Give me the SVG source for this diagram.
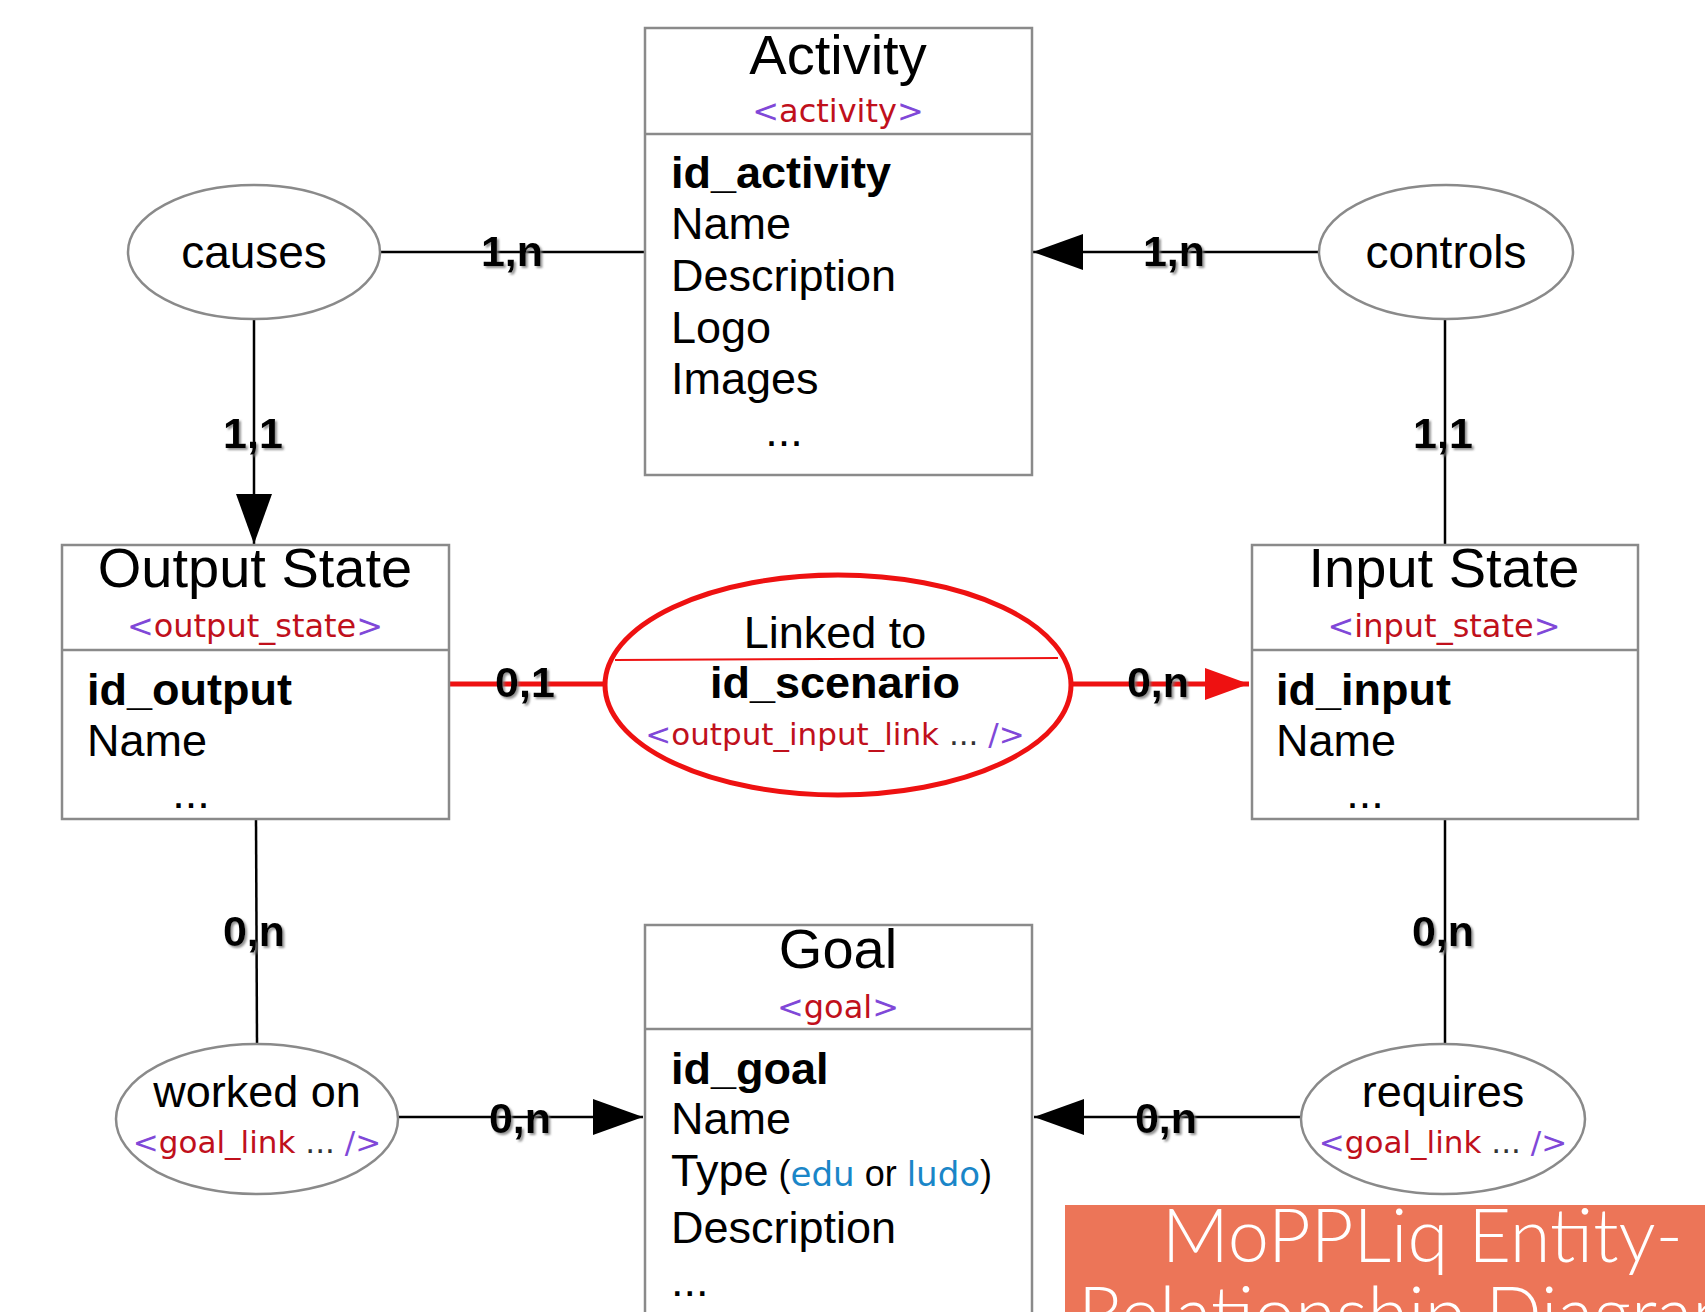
<svg xmlns="http://www.w3.org/2000/svg" width="1705" height="1312" viewBox="0 0 1705 1312">
<defs>
<style>
.box{fill:#fff;stroke:#8a8a8a;stroke-width:2.5}
.ell{fill:#fff;stroke:#8a8a8a;stroke-width:2.5}
.title{font-family:"Liberation Sans",Arial,sans-serif;font-size:56px;fill:#000;text-anchor:middle}
.tag{font-family:"DejaVu Sans",Verdana,sans-serif;font-size:32px;text-anchor:middle}
.pu{fill:#8048d8}
.rd{fill:#c0101c}
.bl{fill:#1a86c8}
.attr{font-family:"Liberation Sans",Arial,sans-serif;font-size:45px;fill:#000}
.key{font-weight:bold}
.rel{font-family:"Liberation Sans",Arial,sans-serif;font-size:46px;fill:#000;text-anchor:middle}
.card{font-family:"Liberation Sans",Arial,sans-serif;font-size:43px;font-weight:bold;fill:#000;text-anchor:middle;filter:url(#sh)}
.ln{stroke:#000;stroke-width:2.5;fill:none}
.rln{stroke:#ee1111;stroke-width:5;fill:none}
.banner{font-family:Lato,"Open Sans",sans-serif;font-weight:300;font-size:74px;fill:#fff}
</style>
<filter id="sh" x="-20%" y="-20%" width="140%" height="140%">
<feDropShadow dx="2" dy="2" stdDeviation="1.2" flood-color="#777" flood-opacity="0.8"/>
</filter>
<marker id="ab" markerUnits="userSpaceOnUse" markerWidth="50" markerHeight="36" refX="50" refY="18" orient="auto">
<path d="M0,0 L50,18 L0,36 Z" fill="#000"/>
</marker>
<marker id="ar" markerUnits="userSpaceOnUse" markerWidth="44" markerHeight="32" refX="44" refY="16" orient="auto">
<path d="M0,0 L44,16 L0,32 Z" fill="#ee1111"/>
</marker>
</defs>
<rect width="1705" height="1312" fill="#fff"/>

<g id="connectors">
<line class="ln" x1="381" y1="252" x2="645" y2="252"/>
<line class="ln" x1="1319" y1="252" x2="1033" y2="252" marker-end="url(#ab)"/>
<line class="ln" x1="254" y1="320" x2="254" y2="544" marker-end="url(#ab)"/>
<line class="ln" x1="1445" y1="320" x2="1445" y2="545"/>
<line class="rln" x1="450" y1="684" x2="606" y2="684"/>
<line class="rln" x1="1071" y1="684" x2="1249" y2="684" marker-end="url(#ar)"/>
<line class="ln" x1="256" y1="819" x2="257" y2="1044"/>
<line class="ln" x1="1445" y1="819" x2="1445" y2="1044"/>
<line class="ln" x1="398" y1="1117" x2="643" y2="1117" marker-end="url(#ab)"/>
<line class="ln" x1="1302" y1="1117" x2="1034" y2="1117" marker-end="url(#ab)"/>
<text class="card" x="512" y="266">1,n</text>
<text class="card" x="1174" y="266">1,n</text>
<text class="card" x="253" y="448">1,1</text>
<text class="card" x="1443" y="448">1,1</text>
<text class="card" x="525" y="697">0,1</text>
<text class="card" x="1158" y="697">0,n</text>
<text class="card" x="254" y="946">0,n</text>
<text class="card" x="1443" y="946">0,n</text>
<text class="card" x="520" y="1133">0,n</text>
<text class="card" x="1166" y="1133">0,n</text>
</g>

<g id="activity">
<rect class="box" x="645" y="28" width="387" height="447"/>
<line class="box" x1="645" y1="134" x2="1032" y2="134"/>
<text class="title" x="838" y="74">Activity</text>
<text class="tag" x="838" y="122"><tspan class="pu">&lt;</tspan><tspan class="rd">activity</tspan><tspan class="pu">&gt;</tspan></text>
<text class="attr key" x="671" y="188">id_activity</text>
<text class="attr" x="671" y="239">Name</text>
<text class="attr" x="671" y="291">Description</text>
<text class="attr" x="671" y="343">Logo</text>
<text class="attr" x="671" y="394">Images</text>
<text class="attr" x="784" y="446" text-anchor="middle">...</text>
</g>

<g id="causes">
<ellipse class="ell" cx="254" cy="252" rx="126" ry="67"/>
<text class="rel" x="254" y="268">causes</text>
</g>

<g id="controls">
<ellipse class="ell" cx="1446" cy="252" rx="127" ry="67"/>
<text class="rel" x="1446" y="268">controls</text>
</g>

<g id="output-state">
<rect class="box" x="62" y="545" width="387" height="274"/>
<line class="box" x1="62" y1="650" x2="449" y2="650"/>
<text class="title" x="255" y="587">Output State</text>
<text class="tag" x="255" y="637"><tspan class="pu">&lt;</tspan><tspan class="rd">output_state</tspan><tspan class="pu">&gt;</tspan></text>
<text class="attr key" x="87" y="705">id_output</text>
<text class="attr" x="87" y="756">Name</text>
<text class="attr" x="191" y="808" text-anchor="middle">...</text>
</g>

<g id="linked-to">
<ellipse cx="838" cy="685" rx="233" ry="110" fill="#fff" stroke="#ee1111" stroke-width="5"/>
<line x1="615" y1="660" x2="1058" y2="658" stroke="#ee1111" stroke-width="2"/>
<text class="rel" x="835" y="648" style="font-size:45px">Linked to</text>
<text class="rel" x="835" y="698" style="font-size:45px;font-weight:bold">id_scenario</text>
<text class="tag" x="835" y="745" style="font-size:31px"><tspan class="pu">&lt;</tspan><tspan class="rd">output_input_link</tspan><tspan fill="#333"> ... </tspan><tspan class="pu">/&gt;</tspan></text>
</g>

<g id="input-state">
<rect class="box" x="1252" y="545" width="386" height="274"/>
<line class="box" x1="1252" y1="650" x2="1638" y2="650"/>
<text class="title" x="1444" y="587">Input State</text>
<text class="tag" x="1444" y="637"><tspan class="pu">&lt;</tspan><tspan class="rd">input_state</tspan><tspan class="pu">&gt;</tspan></text>
<text class="attr key" x="1276" y="705">id_input</text>
<text class="attr" x="1276" y="756">Name</text>
<text class="attr" x="1365" y="808" text-anchor="middle">...</text>
</g>

<g id="worked-on">
<ellipse class="ell" cx="257" cy="1119" rx="141" ry="75"/>
<text class="rel" x="257" y="1107" style="font-size:45px">worked on</text>
<text class="tag" x="257" y="1153" style="font-size:31px"><tspan class="pu">&lt;</tspan><tspan class="rd">goal_link</tspan><tspan fill="#333"> ... </tspan><tspan class="pu">/&gt;</tspan></text>
</g>

<g id="goal">
<rect class="box" x="645" y="925" width="387" height="400"/>
<line class="box" x1="645" y1="1029" x2="1032" y2="1029"/>
<text class="title" x="838" y="968">Goal</text>
<text class="tag" x="838" y="1018"><tspan class="pu">&lt;</tspan><tspan class="rd">goal</tspan><tspan class="pu">&gt;</tspan></text>
<text class="attr key" x="671" y="1084">id_goal</text>
<text class="attr" x="671" y="1134">Name</text>
<text class="attr" x="671" y="1186">Type<tspan style="font-size:36px"> (</tspan><tspan class="bl" style="font-family:'DejaVu Sans',sans-serif;font-size:34px">edu</tspan><tspan style="font-size:36px"> or </tspan><tspan class="bl" style="font-family:'DejaVu Sans',sans-serif;font-size:34px">ludo</tspan><tspan style="font-size:36px">)</tspan></text>
<text class="attr" x="671" y="1243">Description</text>
<text class="attr" x="671" y="1296">...</text>
</g>

<g id="requires">
<ellipse class="ell" cx="1443" cy="1119" rx="142" ry="75"/>
<text class="rel" x="1443" y="1107" style="font-size:45px">requires</text>
<text class="tag" x="1443" y="1153" style="font-size:31px"><tspan class="pu">&lt;</tspan><tspan class="rd">goal_link</tspan><tspan fill="#333"> ... </tspan><tspan class="pu">/&gt;</tspan></text>
</g>

<g id="banner">
<rect x="1065" y="1205" width="640" height="107" fill="#ec7558"/>
<text class="banner" x="1683" y="1262" text-anchor="end">MoPPLiq Entity-</text>
<text class="banner" x="1078" y="1340">Relationship Diagram</text>
</g>
</svg>
